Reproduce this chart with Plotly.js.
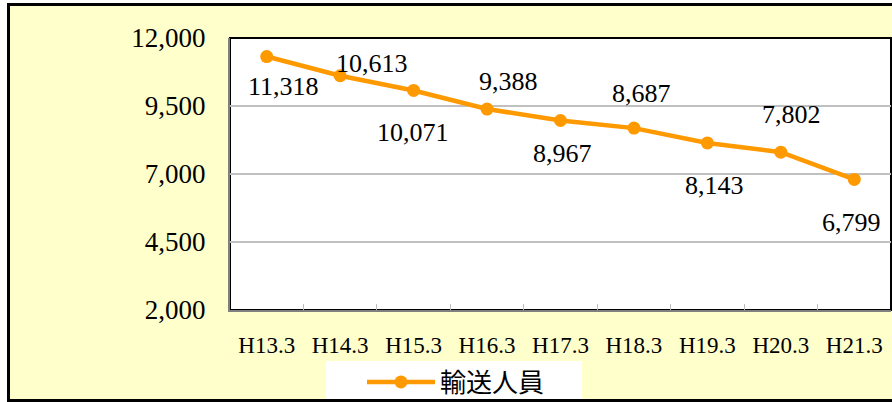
<!DOCTYPE html>
<html>
<head>
<meta charset="utf-8">
<script src="https://cdn.plot.ly/plotly-3.0.1.min.js"></script>
<style>
html, body { margin:0; padding:0; background:#ffffff; overflow:hidden; }
#wrap { position:absolute; left:7px; top:3px; width:900px; height:393px; border:3px solid #000000; background:#FFFFCC; }
#chart { width:900px; height:393px; }
</style>
</head>
<body>
<div id="wrap"><div id="chart"></div></div>
<script>
// Data
var categories = ["H13.3", "H14.3", "H15.3", "H16.3", "H17.3", "H18.3", "H19.3", "H20.3", "H21.3"];
var passengers = [11318, 10613, 10071, 9388, 8967, 8687, 8143, 7802, 6799];
var seriesName = "輸送人員";
var yTicks = [2000, 4500, 7000, 9500, 12000];

// Label placement offsets (style only, px)
var labelDx = [17, 32, -1, 21, 2, 8, 7, 11, -3];
var labelDy = [-30, 12, -42, 28, -33, 35, -43, 38, -43];

var orange = "#FF9900";
var serif = "'Liberation Serif', serif";

var annotations = categories.map(function (c, i) {
  return {
    x: c, y: passengers[i], xref: "x", yref: "y",
    text: passengers[i].toLocaleString("en-US"),
    showarrow: false, xanchor: "center", yanchor: "middle",
    xshift: labelDx[i], yshift: labelDy[i],
    font: { family: serif, size: 26, color: "#000000" }
  };
});

var trace = {
  type: "scatter", mode: "lines+markers",
  x: categories, y: passengers, name: seriesName,
  line: { color: orange, width: 4.5 },
  marker: { color: orange, size: 13 },
  hoverinfo: "x+y"
};

var layout = {
  width: 900, height: 393,
  margin: { l: 220, r: 19, t: 32, b: 89, autoexpand: false },
  paper_bgcolor: "#FFFFCC",
  plot_bgcolor: "#FFFFFF",
  showlegend: true,
  legend: {
    orientation: "h", x: 0.1997, y: -0.2647, xanchor: "left", yanchor: "middle",
    bgcolor: "rgba(0,0,0,0)", borderwidth: 0, itemwidth: 68,
    font: { family: "'Noto Sans CJK JP', sans-serif", size: 26, color: "#000000" }
  },
  xaxis: {
    type: "category", range: [-0.5, 8.5],
    showline: true, linecolor: "#808080", linewidth: 2,
    showgrid: false, ticks: "inside", tickson: "boundaries",
    ticklen: 6, tickcolor: "#BFBFBF", tickwidth: 1,
    tickfont: { family: serif, size: 23, color: "#000000" },
    ticklabelstandoff: 13, zeroline: false
  },
  yaxis: {
    range: [2000, 12000], tickvals: yTicks, tickformat: ",",
    showline: true, linecolor: "#808080", linewidth: 2,
    showgrid: true, gridcolor: "#C0C0C0", gridwidth: 1.5,
    ticks: "", zeroline: false,
    tickfont: { family: serif, size: 27, color: "#000000" },
    ticklabelstandoff: 17
  },
  shapes: [
    { type: "rect", xref: "paper", yref: "paper", x0: 0, x1: 1, y0: 0, y1: 1,
      line: { color: "#000000", width: 2 }, layer: "below" },
    { type: "rect", xref: "paper", yref: "paper", x0: 0.1452, x1: 0.5325, y0: -0.327, y1: -0.1875,
      line: { width: 0 }, fillcolor: "#FFFFFF", layer: "above" }
  ],
  annotations: annotations
};

Plotly.newPlot("chart", [trace], layout, { displayModeBar: false, staticPlot: true });
</script>
</body>
</html>
